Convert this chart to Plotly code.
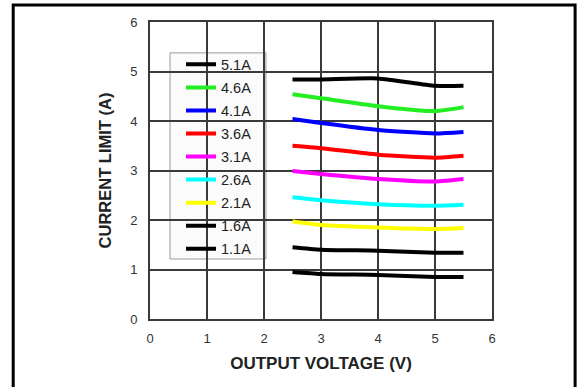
import plotly.graph_objects as go

voltage = [2.5, 3.0, 4.0, 5.0, 5.5]

names = ["5.1A", "4.6A", "4.1A", "3.6A", "3.1A", "2.6A", "2.1A", "1.6A", "1.1A"]
colors = ["#000000", "#22ee22", "#0000ff", "#ff0000", "#ff00ff", "#00ffff", "#ffff00", "#000000", "#000000"]

i_51 = [4.84, 4.84, 4.86, 4.71, 4.71]
i_46 = [4.54, 4.46, 4.30, 4.20, 4.28]
i_41 = [4.04, 3.96, 3.82, 3.75, 3.78]
i_36 = [3.50, 3.45, 3.32, 3.26, 3.30]
i_31 = [2.99, 2.93, 2.83, 2.78, 2.83]
i_26 = [2.46, 2.40, 2.32, 2.29, 2.31]
i_21 = [1.97, 1.90, 1.85, 1.82, 1.84]
i_16 = [1.45, 1.40, 1.38, 1.34, 1.34]
i_11 = [0.95, 0.91, 0.89, 0.85, 0.85]

series = [i_51, i_46, i_41, i_36, i_31, i_26, i_21, i_16, i_11]

x_ticks = [0, 1, 2, 3, 4, 5, 6]
y_ticks = [0, 1, 2, 3, 4, 5, 6]

fig = go.Figure()
for name, col, vals in zip(names, colors, series):
    fig.add_trace(go.Scatter(
        x=voltage, y=vals, name=name, mode="lines",
        line=dict(color=col, width=4, shape="spline", smoothing=0.6),
        legendgroup=name,
    ))

font_family = "Liberation Sans, Arial, sans-serif"
grid_col = "#3a3a3a"

fig.update_layout(
    width=585, height=387,
    margin=dict(l=150, r=93, t=22, b=68),
    paper_bgcolor="white", plot_bgcolor="white",
    font=dict(family=font_family, color="#222"),
    showlegend=True,
    legend=dict(
        x=0.0907, y=0.911, xanchor="left", yanchor="top",
        bgcolor="rgba(0,0,0,0)", borderwidth=0,
        font=dict(size=14.5, color="#222"),
        traceorder="grouped", tracegroupgap=1.2,
        itemwidth=30,
    ),
    xaxis=dict(
        range=[0, 6], tickvals=x_ticks, ticktext=[str(v) for v in x_ticks],
        showgrid=True, gridcolor=grid_col, gridwidth=1.5,
        showline=True, linecolor=grid_col, linewidth=2, mirror=True,
        zeroline=False, ticks="", ticklabelstandoff=6,
        tickfont=dict(size=13, color="#333"),
        title=dict(text="<b>OUTPUT VOLTAGE (V)</b>", font=dict(size=17, color="#222"), standoff=13),
    ),
    yaxis=dict(
        range=[0, 6], tickvals=y_ticks, ticktext=[str(v) for v in y_ticks],
        showgrid=True, gridcolor=grid_col, gridwidth=1.5,
        showline=True, linecolor=grid_col, linewidth=2, mirror=True,
        zeroline=False, ticks="", ticklabelstandoff=8,
        tickfont=dict(size=13, color="#333"),
        title=dict(text="<b>CURRENT LIMIT (A)</b>", font=dict(size=16.5, color="#222"), standoff=14),
    ),
    shapes=[
        dict(
            type="rect", xref="paper", yref="paper",
            x0=0.0585, x1=0.339, y0=0.202, y1=0.896,
            line=dict(color="#9a9a9a", width=1), fillcolor="#fbfbfb", layer="between",
        ),
        dict(
            type="rect", xref="paper", yref="paper",
            x0=-0.40, x1=1.243, y0=-0.30, y1=1.057,
            line=dict(color="black", width=3), fillcolor="rgba(0,0,0,0)", layer="above",
        ),
    ],
)

fig.write_html(
    "out.html",
    config={"displayModeBar": False},
    post_script="document.body.style.margin='0';document.body.style.overflow='hidden';",
)
